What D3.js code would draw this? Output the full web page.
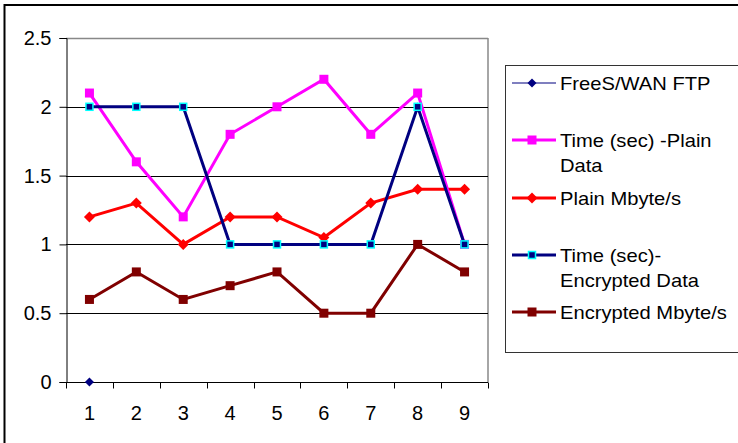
<!DOCTYPE html>
<html><head><meta charset="utf-8">
<script src="https://cdn.jsdelivr.net/npm/d3@7"></script>
<style>body{margin:0;background:#fff}svg{display:block;font-family:"Liberation Sans",Arial,sans-serif}</style>
</head><body><svg id="c" width="738" height="443"></svg>
<script>
const categories = [1,2,3,4,5,6,7,8,9];
const yTicks = [0,0.5,1,1.5,2,2.5];
const freeswan = [0];
const timePlain = [2.1,1.6,1.2,1.8,2.0,2.2,1.8,2.1,1.0];
const plainMB = [1.2,1.3,1.0,1.2,1.2,1.05,1.3,1.4,1.4];
const timeEnc = [2,2,2,1,1,1,1,2,1];
const encMB = [0.6,0.8,0.6,0.7,0.8,0.5,0.5,1.0,0.8];
const seriesNames = ["FreeS/WAN FTP","Time (sec) -Plain|Data","Plain Mbyte/s","Time (sec)-|Encrypted Data","Encrypted Mbyte/s"];

const svg = d3.select("#c");
// outer border
svg.append("rect").attr("x",4.5).attr("y",5).attr("width",760).attr("height",460)
  .attr("fill","none").attr("stroke","#000").attr("stroke-width",2);

const L=66, R=488, T=38, B=382;
const x = d3.scaleBand().domain(categories).range([L,R]);
const y = d3.scaleLinear().domain([0,2.5]).range([B,T]);
const g = svg.append("g");

g.append("line").attr("x1",R).attr("x2",R).attr("y1",T).attr("y2",B).attr("stroke","#888").attr("stroke-width",1.5);
yTicks.forEach(t=>{
  if(t===0) return;
  g.append("line").attr("x1",L).attr("x2",R).attr("y1",Math.round(y(t))+0.5).attr("y2",Math.round(y(t))+0.5)
   .attr("stroke", t===2.5 ? "#888" : "#000").attr("stroke-width", t===2.5?1.5:1);
});
const yAxis = d3.axisLeft(y).tickValues(yTicks).tickFormat(d=>d).tickSize(7).tickPadding(8);
const ya = g.append("g").attr("transform",`translate(${L+0.5},0)`).call(yAxis);
ya.select(".domain").attr("stroke","#000");
ya.selectAll("text").attr("font-size",20).attr("fill","#000").attr("font-family","Liberation Sans, Arial, sans-serif");

const xTickScale = d3.scaleLinear().domain([0,9]).range([L,R]);
const xa = g.append("g").attr("transform",`translate(0,${B+0.5})`);
xa.append("line").attr("x1",L).attr("x2",R).attr("stroke","#000");
d3.range(0,10).forEach(i=>{
  xa.append("line").attr("x1",Math.round(xTickScale(i))+0.5).attr("x2",Math.round(xTickScale(i))+0.5).attr("y1",0).attr("y2",6).attr("stroke","#000");
});
xa.selectAll("text.xl").data(categories).enter().append("text")
  .attr("x",d=>x(d)+x.bandwidth()/2).attr("y",37).attr("text-anchor","middle")
  .attr("font-size",20).attr("fill","#000").text(d=>d);

const line = d3.line().x((d,i)=>x(categories[i])+x.bandwidth()/2).y(d=>y(d));

function drawLine(data,color,w){
  g.append("path").datum(data).attr("d",line).attr("fill","none").attr("stroke",color).attr("stroke-width",w).attr("stroke-linejoin","miter");
}
function square(sel,cx,cy,s,fill,stroke,sw){
  sel.append("rect").attr("x",cx-s/2).attr("y",cy-s/2).attr("width",s).attr("height",s)
   .attr("fill",fill).attr("stroke",stroke||"none").attr("stroke-width",sw||0);
}
function diamond(sel,cx,cy,s,fill){
  sel.append("path").attr("d",`M${cx},${cy-s}L${cx+s},${cy}L${cx},${cy+s}L${cx-s},${cy}Z`).attr("fill",fill);
}
const cxOf = i=>x(categories[i])+x.bandwidth()/2;

drawLine(encMB,"#800000",3);
encMB.forEach((v,i)=>square(g,cxOf(i),y(v),9,"#800000"));
drawLine(plainMB,"#ff0000",3);
plainMB.forEach((v,i)=>diamond(g,cxOf(i),y(v),5.5,"#ff0000"));
drawLine(timePlain,"#ff00ff",3);
timePlain.forEach((v,i)=>square(g,cxOf(i),y(v),9,"#ff00ff"));
drawLine(timeEnc,"#000080",3);
timeEnc.forEach((v,i)=>square(g,cxOf(i),y(v),7,"#000080","#00ffff",1.5));
freeswan.forEach((v,i)=>diamond(g,cxOf(i),y(v),4.5,"#000080"));

// legend
const lg = svg.append("g");
lg.append("rect").attr("x",505.5).attr("y",65.5).attr("width",260).attr("height",287)
  .attr("fill","#fff").attr("stroke","#333").attr("stroke-width",1);
const rows = [
  {y:83, color:"#000080", w:1.2, mk:"dia", mc:"#000080"},
  {y:140, color:"#ff00ff", w:3, mk:"sq", mc:"#ff00ff"},
  {y:198, color:"#ff0000", w:3, mk:"dia", mc:"#ff0000"},
  {y:255, color:"#000080", w:3, mk:"sqc", mc:"#000080"},
  {y:312, color:"#800000", w:3, mk:"sq", mc:"#800000"}
];
rows.forEach((r,i)=>{
  lg.append("line").attr("x1",512).attr("x2",556).attr("y1",r.y).attr("y2",r.y).attr("stroke",r.color).attr("stroke-width",r.w);
  if(r.mk==="dia") diamond(lg,532,r.y,i===0?4.5:5.5,r.mc);
  else if(r.mk==="sq") square(lg,532,r.y,9,r.mc);
  else square(lg,532,r.y,7,r.mc,"#00ffff",1.5);
  const parts = seriesNames[i].split("|");
  parts.forEach((p,j)=>{
    lg.append("text").attr("transform",`translate(560,${r.y+6.5+j*25}) scale(1.12,1)`)
      .attr("font-size",18).attr("fill","#000").text(p);
  });
});
</script></body></html>
